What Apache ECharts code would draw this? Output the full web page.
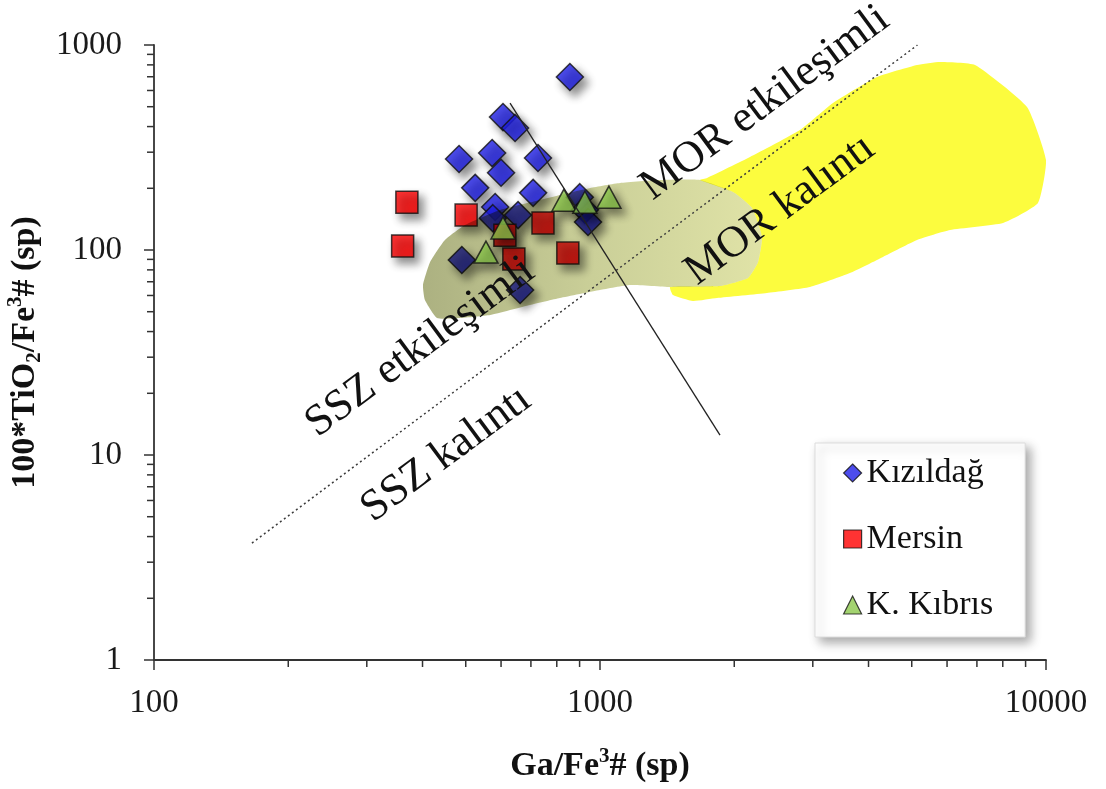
<!DOCTYPE html>
<html>
<head>
<meta charset="utf-8">
<script src="https://cdn.jsdelivr.net/npm/echarts@6/dist/echarts.min.js"></script>
<style>
  html, body { margin: 0; padding: 0; background: #ffffff; }
  #chart { width: 1106px; height: 789px; }
</style>
</head>
<body>
<div id="chart"></div>
<script>
// Sample groups: [Ga/Fe3#, 100*TiO2/Fe3#]
const kizildag = [
  [856, 698], [606, 445], [645, 394], [483, 278], [573, 297], [726, 281],
  [600, 238], [525, 201], [708, 190], [582, 162], [575, 143], [655, 148],
  [901, 181], [925, 157], [940, 137], [490, 89.4], [662, 63.8]
];
const mersin = [
  [369, 171], [361, 104.6], [501, 148], [745, 135.5], [612, 118], [641, 90.4], [847, 96.6]
];
const kibris = [
  [606, 128], [555, 97.7], [830, 175], [925, 171], [1047, 181]
];

// Field outlines in data units
const morInteractionField = [
  [431, 46.6], [405, 57], [401, 67.5], [416, 87.4], [449, 111.9], [498, 132.4],
  [597, 156.7], [734, 175.4], [950, 200.6], [1109, 212.3], [1363, 219.5], [1676, 219.5],
  [1987, 191.8], [2192, 160.3], [2308, 115.7], [2262, 87.4], [2147, 73], [1858, 66.7],
  [1436, 66], [1168, 67.5], [1000, 63.8], [813, 58.3], [697, 53.9], [567, 48.2], [485, 46.6]
];
const morResidueField = [
  [1738, 224.5], [2169, 284.2], [2808, 384.8], [3330, 521.4], [4179, 698], [5138, 798.8],
  [5787, 826.4], [6932, 798.8], [9066, 498.5], [10000, 274.8], [9594, 169.6], [8010, 135.4],
  [6093, 125.2], [5138, 111.9], [4311, 92.5], [3635, 77.2], [2957, 66.0], [2368, 61.7],
  [1829, 58.3], [1616, 56.4], [1458, 60.3], [1436, 66], [1858, 66.7], [2147, 73],
  [2262, 87.4], [2308, 115.7], [2192, 160.3], [1987, 191.8], [1676, 219.5]
];

// Boundary lines
const sszMorBoundary = [[165.8, 3.72], [5150, 1000]];
const residueInteractionBoundary = [[628.5, 521], [1858, 12.5]];

// Field names and their anchor points
const fieldNames = ['MOR etkileşimli', 'MOR kalıntı', 'SSZ etkileşimli', 'SSZ kalıntı'];
const fieldAnchors = [[2344, 521], [2533, 156.7], [395, 33.5], [452, 10.1]];

// Axis ranges and minor tick values
const xRange = [100, 10000];
const yRange = [1, 1000];
const xMinorTicks = [200, 300, 400, 500, 600, 700, 800, 900, 2000, 3000, 4000, 5000, 6000, 7000, 8000, 9000];
const yMinorTicks = [2, 3, 4, 5, 6, 7, 8, 9, 20, 30, 40, 50, 60, 70, 80, 90, 200, 300, 400, 500, 600, 700, 800, 900];

const SERIF = "'Liberation Serif', 'Times New Roman', serif";
const AXIS_COLOR = '#333333';

const markerShadow = {
  shadowBlur: 8,
  shadowOffsetX: 5,
  shadowOffsetY: 6,
  shadowColor: 'rgba(0,0,0,0.55)'
};

function polygonSeries(name, elName, points, fill, z, blend) {
  return {
    name: name,
    type: 'custom',
    silent: true,
    z: z,
    clip: true,
    data: points,
    renderItem: function (params, api) {
      if (params.dataIndex !== 0) return null;
      const pts = points.map(function (p) { return api.coord(p); });
      const style = { fill: fill, stroke: null };
      if (blend) style.blend = blend;
      return { type: 'polygon', name: elName, shape: { points: pts, smooth: 0.15 }, style: style };
    }
  };
}

function minorTickSeries(values, dir) {
  return {
    type: 'custom',
    silent: true,
    z: 8,
    clip: false,
    data: values.map(function (v) { return dir === 'x' ? [v, yRange[0]] : [xRange[0], v]; }),
    renderItem: function (params, api) {
      const p = api.coord([api.value(0), api.value(1)]);
      const shape = dir === 'x'
        ? { x1: p[0], y1: p[1], x2: p[0], y2: p[1] + 7 }
        : { x1: p[0], y1: p[1], x2: p[0] - 7, y2: p[1] };
      return { type: 'line', shape: shape, style: { stroke: AXIS_COLOR, lineWidth: 1.5 } };
    }
  };
}

const oliveFill = new echarts.graphic.LinearGradient(0, 0, 1, 0, [
  { offset: 0, color: '#acb181' },
  { offset: 0.5, color: '#cacf98' },
  { offset: 1, color: '#e0e3a7' }
]);

const nameRich = {
  b: { fontFamily: SERIF, fontSize: 34, fontWeight: 'bold', color: '#111', lineHeight: 40, verticalAlign: 'middle' },
  sup: { fontFamily: SERIF, fontSize: 21, fontWeight: 'bold', color: '#111', lineHeight: 21, verticalAlign: 'top' },
  sub: { fontFamily: SERIF, fontSize: 21, fontWeight: 'bold', color: '#111', lineHeight: 21, verticalAlign: 'bottom' }
};

const chart = echarts.init(document.getElementById('chart'), null, { renderer: 'canvas' });

chart.setOption({
  animation: false,
  backgroundColor: '#ffffff',
  grid: { left: 154, right: 60, top: 45, bottom: 129, containLabel: false, outerBoundsMode: 'none' },
  xAxis: {
    type: 'log',
    logBase: 10,
    min: xRange[0],
    max: xRange[1],
    name: '{b|Ga/Fe}{sup|3}{b|# (sp)}',
    nameLocation: 'middle',
    nameGap: 86,
    nameTextStyle: { rich: nameRich },
    axisLine: { show: true, lineStyle: { color: AXIS_COLOR, width: 1.8 } },
    axisTick: { show: true, length: 10, inside: false, lineStyle: { color: AXIS_COLOR, width: 1.5 } },
    axisLabel: {
      margin: 27, fontFamily: SERIF, fontSize: 33, color: '#1a1a1a',
      formatter: function (v) { return String(Math.round(v)); }
    },
    splitLine: { show: false }
  },
  yAxis: {
    type: 'log',
    logBase: 10,
    min: yRange[0],
    max: yRange[1],
    name: '{b|100*TiO}{sub|2}{b|/Fe}{sup|3}{b|# (sp)}',
    nameLocation: 'middle',
    nameGap: 97,
    nameTextStyle: { rich: nameRich },
    axisLine: { show: true, lineStyle: { color: AXIS_COLOR, width: 1.8 } },
    axisTick: { show: true, length: 10, inside: false, lineStyle: { color: AXIS_COLOR, width: 1.5 } },
    axisLabel: {
      margin: 32, fontFamily: SERIF, fontSize: 33, color: '#1a1a1a',
      formatter: function (v) { return String(Math.round(v)); }
    },
    splitLine: { show: false }
  },
  legend: {
    orient: 'vertical',
    left: 815,
    top: 443,
    padding: [10, 32, 12, 28],
    itemGap: 26,
    itemWidth: 18,
    itemHeight: 18,
    backgroundColor: '#ffffff',
    borderColor: '#dcdcdc',
    borderWidth: 1,
    shadowBlur: 10,
    shadowOffsetX: 5,
    shadowOffsetY: 5,
    shadowColor: 'rgba(0,0,0,0.35)',
    textStyle: { fontFamily: SERIF, fontSize: 34, color: '#111', lineHeight: 40 },
    itemStyle: { shadowBlur: 0, shadowOffsetX: 0, shadowOffsetY: 0, borderWidth: 1.2, borderColor: '#111' },
    data: ['Kızıldağ', 'Mersin', 'K. Kıbrıs']
  },
  series: [
    polygonSeries('MOR kalıntı alanı', 'yellowField', morResidueField, '#fcfc3e', 1, null),
    {
      name: 'Kızıldağ',
      type: 'scatter',
      z: 2,
      symbol: 'diamond',
      symbolSize: 27,
      itemStyle: Object.assign({ color: '#1f1fe8', borderColor: '#111', borderWidth: 1.5 }, markerShadow),
      data: kizildag
    },
    {
      name: 'Mersin',
      type: 'scatter',
      z: 3,
      symbol: 'rect',
      symbolSize: 22,
      itemStyle: Object.assign({ color: '#ff0000', borderColor: '#111', borderWidth: 1.5 }, markerShadow),
      data: mersin
    },
    polygonSeries('MOR etkileşimli alanı', 'oliveField', morInteractionField, oliveFill, 4, 'multiply'),
    {
      name: 'K. Kıbrıs',
      type: 'scatter',
      z: 5,
      symbol: 'triangle',
      symbolSize: [24, 22],
      itemStyle: Object.assign({ color: '#8cc84c', borderColor: '#111', borderWidth: 1.5 }, markerShadow),
      data: kibris
    },
    {
      type: 'line',
      z: 6,
      silent: true,
      symbol: 'none',
      lineStyle: { color: '#3a3a3a', width: 1.5, type: [2, 3] },
      data: sszMorBoundary
    },
    {
      type: 'line',
      z: 6,
      silent: true,
      symbol: 'none',
      lineStyle: { color: '#222', width: 1.3, type: 'solid' },
      data: residueInteractionBoundary
    },
    {
      type: 'custom',
      z: 7,
      silent: true,
      clip: false,
      data: fieldAnchors,
      renderItem: function (params, api) {
        const p = api.coord([api.value(0), api.value(1)]);
        return {
          type: 'text',
          x: p[0],
          y: p[1],
          rotation: 36.5 * Math.PI / 180,
          style: {
            text: fieldNames[params.dataIndex],
            fontFamily: SERIF,
            fontSize: 44,
            fill: '#111',
            align: 'center',
            verticalAlign: 'middle'
          }
        };
      }
    },
    minorTickSeries(xMinorTicks, 'x'),
    minorTickSeries(yMinorTicks, 'y')
  ]
});

// Make the olive field darken whatever lies beneath it (multiply compositing)
function applyFieldBlend() {
  const zr = chart.getZr();
  let changed = false;
  zr.storage.getDisplayList(true).forEach(function (el) {
    if (el.name === 'oliveField' && el.style && el.style.blend !== 'multiply') {
      el.style.blend = 'multiply';
      el.markRedraw();
      changed = true;
    }
  });
  if (changed) zr.refreshImmediately();
}
applyFieldBlend();
chart.on('finished', applyFieldBlend);
</script>
</body>
</html>
